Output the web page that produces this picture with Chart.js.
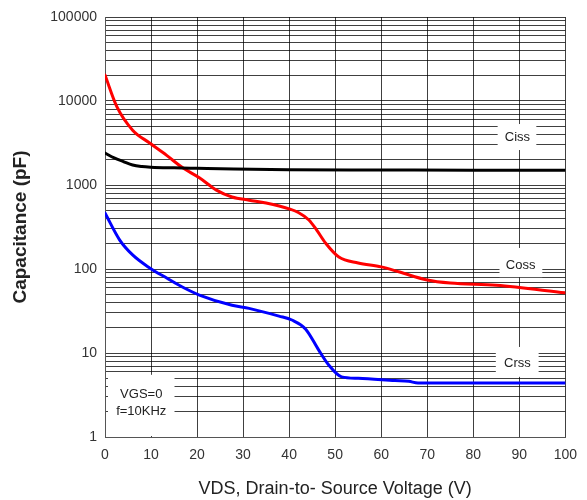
<!DOCTYPE html>
<html>
<head>
<meta charset="utf-8">
<style>
  html, body { margin: 0; padding: 0; background: #fff; }
  #wrap { width: 587px; height: 500px; }
</style>
<script src="https://cdn.jsdelivr.net/npm/chart.js@4.4.1/dist/chart.umd.min.js"></script>
</head>
<body>
<div id="wrap"><canvas id="capChart"></canvas></div>
<script>
// values (VDS in V, capacitance in pF)
const cissVds = [0, 2, 4, 6, 8, 10, 15, 20, 28, 40, 60, 80, 100];
const cissPf  = [2400, 2100, 1900, 1730, 1660, 1630, 1600, 1580, 1550, 1520, 1510, 1500, 1500];

const cossVds = [0, 2.6, 6, 9.7, 13.4, 16.9, 20.5, 24.2, 27.6, 31.3, 35, 40, 42, 44.3, 46, 47.9, 50.8, 55, 60, 64, 70, 75, 85, 100];
const cossPf  = [20400, 8500, 4500, 3160, 2250, 1600, 1220, 870, 720, 660, 610, 520, 470, 383, 290, 204, 139, 118, 106, 92, 74, 68, 64, 52];

const crssVds = [0, 3.2, 6, 9.7, 13.4, 16.8, 20.5, 27.6, 31.3, 37.8, 40.6, 43.6, 46.4, 48.6, 51.4, 55, 63, 66, 68, 100];
const crssPf  = [464, 221, 147, 103, 78, 61, 49, 37, 34, 27.5, 24.7, 19.2, 10.9, 7.2, 5.2, 5.0, 4.7, 4.6, 4.4, 4.4];

const xTicks = [0, 10, 20, 30, 40, 50, 60, 70, 80, 90, 100];
const yDecades = [1, 10, 100, 1000, 10000, 100000];

// curve name labels: [text, vds, pF, box x1, box x2, box y1, box y2]
const curveLabels = [
  ["Ciss", 89.6, 3730, 85.3, 93.7, 2610, 5320],
  ["Coss", 90.3, 109, 85.7, 95.0, 80, 178],
  ["Crss", 89.6, 7.6, 84.9, 94.2, 5.2, 11.8]
];
const noteLines = ["VGS=0", "f=10KHz"];

const toPoints = (xs, ys) => xs.map((x, i) => ({ x: x, y: ys[i] }));

// every 1..9 step in each decade gets a grid line
const yGridTicks = [];
yDecades.forEach(d => {
  for (let k = 1; k <= 9; k++) {
    if (d * k <= 100000) yGridTicks.push(d * k);
  }
});

const labelBoxes = {
  id: "labelBoxes",
  beforeDatasetsDraw(chart) {
    const { ctx, scales: { x, y }, chartArea } = chart;
    ctx.save();
    ctx.fillStyle = "#ffffff";
    curveLabels.forEach(l => {
      const x1 = x.getPixelForValue(l[3]), x2 = x.getPixelForValue(l[4]);
      const y1 = y.getPixelForValue(l[6]), y2 = y.getPixelForValue(l[5]);
      ctx.fillRect(x1, y1, x2 - x1, y2 - y1);
    });
    // conditions note box, lower left corner
    const nx1 = chartArea.left + 3, nx2 = x.getPixelForValue(15.1);
    const ny1 = y.getPixelForValue(5.5), ny2 = chartArea.bottom - 1;
    ctx.fillRect(nx1, ny1, nx2 - nx1, ny2 - ny1);

    ctx.fillStyle = "#222";
    ctx.font = "13px 'Liberation Sans', Arial, sans-serif";
    ctx.textAlign = "center";
    ctx.textBaseline = "middle";
    curveLabels.forEach(l => {
      ctx.fillText(l[0], x.getPixelForValue(l[1]), y.getPixelForValue(l[2]));
    });
    const cx = (nx1 + nx2) / 2;
    ctx.fillText(noteLines[0], cx, ny1 + 20);
    ctx.fillText(noteLines[1], cx, ny1 + 37);
    ctx.restore();
  }
};

const ctx = document.getElementById("capChart").getContext("2d");
new Chart(ctx, {
  type: "line",
  data: {
    datasets: [
      { label: "Ciss", data: toPoints(cissVds, cissPf), borderColor: "#000000", borderWidth: 3 },
      { label: "Coss", data: toPoints(cossVds, cossPf), borderColor: "#ff0000", borderWidth: 3 },
      { label: "Crss", data: toPoints(crssVds, crssPf), borderColor: "#0000ff", borderWidth: 3 }
    ]
  },
  options: {
    responsive: true,
    maintainAspectRatio: false,
    animation: false,
    layout: { padding: { top: 17, right: 19, left: 0, bottom: 0 } },
    elements: {
      point: { radius: 0 },
      line: { cubicInterpolationMode: "monotone", fill: false, borderCapStyle: "round", borderJoinStyle: "round" }
    },
    plugins: { legend: { display: false }, tooltip: { enabled: false } },
    scales: {
      x: {
        type: "linear",
        min: 0,
        max: 100,
        afterBuildTicks: s => { s.ticks = xTicks.map(v => ({ value: v })); },
        afterFit: s => { s.height = 63; },
        grid: { color: "rgba(0,0,0,0.75)", lineWidth: 1, drawTicks: false },
        border: { color: "#555", width: 1 },
        ticks: { color: "#333", font: { family: "'Liberation Sans', Arial", size: 14 }, padding: 10, maxRotation: 0 },
        title: {
          display: true,
          text: "VDS, Drain-to- Source Voltage (V)",
          color: "#222",
          font: { family: "'Liberation Sans', Arial", size: 18 },
          padding: { top: 0, bottom: 0 }
        }
      },
      y: {
        type: "logarithmic",
        min: 1,
        max: 100000,
        afterBuildTicks: s => { s.ticks = yGridTicks.map(v => ({ value: v })); },
        afterFit: s => { s.width = 105; },
        grid: { color: "rgba(0,0,0,0.75)", lineWidth: 1, drawTicks: false },
        border: { color: "#555", width: 1 },
        ticks: {
          autoSkip: false,
          color: "#333",
          font: { family: "'Liberation Sans', Arial", size: 14 },
          padding: 8,
          callback: v => (yDecades.includes(v) ? String(v) : "")
        },
        title: {
          display: true,
          text: "Capacitance (pF)",
          color: "#222",
          font: { family: "'Liberation Sans', Arial", size: 19, weight: "bold" },
          padding: { top: 9, bottom: 0 }
        }
      }
    }
  },
  plugins: [labelBoxes]
});
</script>
</body>
</html>
